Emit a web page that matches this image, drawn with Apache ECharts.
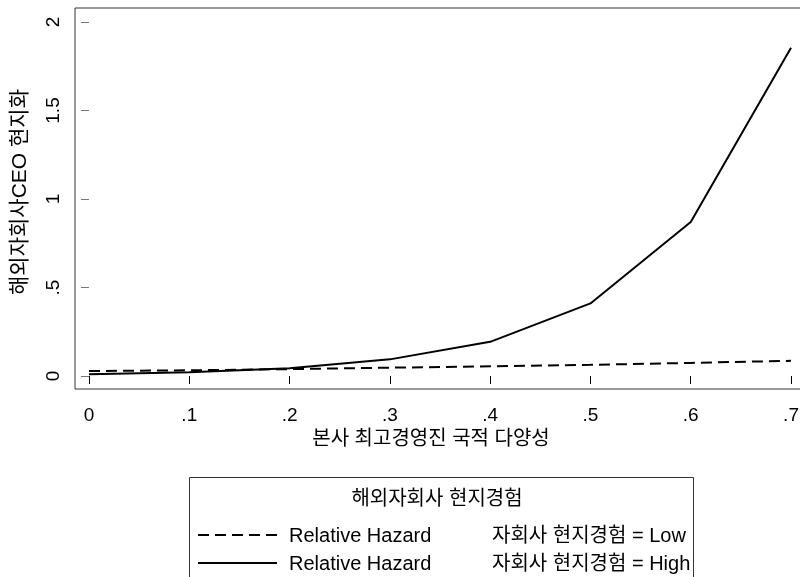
<!DOCTYPE html>
<html>
<head>
<meta charset="utf-8">
<script src="https://cdn.jsdelivr.net/npm/echarts@6/dist/echarts.min.js"></script>
<style>html,body{margin:0;padding:0;background:#fff}#c{width:800px;height:577px}</style>
</head>
<body>
<div id="c"></div>
<script>
const diversity = [0, 0.1, 0.2, 0.3, 0.4, 0.5, 0.6, 0.7];
const hazardLow = [0.028, 0.032, 0.039, 0.047, 0.055, 0.063, 0.074, 0.086];
const hazardHigh = [0.010, 0.021, 0.044, 0.094, 0.193, 0.41, 0.87, 1.855];
const xTicks = [0, 0.1, 0.2, 0.3, 0.4, 0.5, 0.6, 0.7];
const yTicks = [0, 0.5, 1, 1.5, 2];
const xTitle = '본사 최고경영진 국적 다양성';
const yTitle = '해외자회사CEO 현지화';
const legendTitle = '해외자회사 현지경험';
const seriesNames = ['Relative Hazard', 'Relative Hazard'];
const groupLabels = ['자회사 현지경험 = Low', '자회사 현지경험 = High'];

const FONT = "'Liberation Sans', Arial, 'Noto Sans CJK KR', sans-serif";
const fmt = v => {
  if (Math.abs(v) < 1e-9) return '0';
  let s = String(Math.round(v * 100) / 100);
  return s.replace(/^0\./, '.');
};

const chart = echarts.init(document.getElementById('c'), null, {renderer: 'canvas'});
const option = {
  backgroundColor: '#fff',
  animation: false,
  grid: {left: 75, top: 8, width: 730, height: 381, show: true, borderColor: '#333', borderWidth: 1,
         backgroundColor: 'transparent', containLabel: false, outerBoundsMode: 'none'},
  xAxis: {
    type: 'value', min: -0.01396, max: 0.71394,
    axisLine: {show: false},
    splitLine: {show: false},
    axisTick: {show: true, length: 8, lineStyle: {color: '#000', width: 1}, customValues: xTicks},
    axisLabel: {customValues: xTicks, formatter: fmt, margin: 17, fontSize: 19, color: '#000', fontFamily: FONT, hideOverlap: false},
    name: xTitle, nameLocation: 'middle', nameGap: 40,
    nameTextStyle: {fontSize: 20, color: '#000', fontFamily: FONT, padding: [0, 18, 0, 0]}
  },
  yAxis: {
    type: 'value', min: -0.0734, max: 2.0791,
    axisLine: {show: false},
    splitLine: {show: false},
    axisTick: {show: true, length: 8, lineStyle: {color: '#777', width: 1}, customValues: yTicks},
    axisLabel: {customValues: yTicks, formatter: fmt, rotate: 90, margin: 12, fontSize: 19, color: '#000', fontFamily: FONT, hideOverlap: false},
    name: yTitle, nameLocation: 'middle', nameGap: 44,
    nameTextStyle: {fontSize: 21, color: '#000', fontFamily: FONT, padding: [0, 0, 0, 13]}
  },
  series: [
    {
      name: groupLabels[0], type: 'line', showSymbol: false, symbol: 'none',
      data: diversity.map((x, i) => [x, hazardLow[i]]),
      lineStyle: {color: '#000', width: 2, type: [11, 6]}
    },
    {
      name: groupLabels[1], type: 'line', showSymbol: false, symbol: 'none',
      data: diversity.map((x, i) => [x, hazardHigh[i]]),
      lineStyle: {color: '#000', width: 2, type: 'solid'}
    }
  ],
  graphic: [
    {type: 'rect', shape: {x: 189.5, y: 477.5, width: 504, height: 130}, style: {fill: '#fff', stroke: '#333', lineWidth: 1}, silent: true},
    {type: 'text', x: 437, y: 499, style: {text: legendTitle, font: "20px " + FONT, fill: '#000', textAlign: 'center', textVerticalAlign: 'middle'}},
    {type: 'line', shape: {x1: 198, y1: 535, x2: 277, y2: 535}, style: {stroke: '#000', lineWidth: 2, lineDash: [11, 6]}},
    {type: 'line', shape: {x1: 198, y1: 563, x2: 277, y2: 563}, style: {stroke: '#000', lineWidth: 2}},
    {type: 'text', x: 289, y: 536, style: {text: seriesNames[0], font: "20px " + FONT, fill: '#000', textAlign: 'left', textVerticalAlign: 'middle'}},
    {type: 'text', x: 289, y: 564, style: {text: seriesNames[1], font: "20px " + FONT, fill: '#000', textAlign: 'left', textVerticalAlign: 'middle'}},
    {type: 'text', x: 492, y: 536, style: {text: groupLabels[0], font: "20px " + FONT, fill: '#000', textAlign: 'left', textVerticalAlign: 'middle'}},
    {type: 'text', x: 492, y: 564, style: {text: groupLabels[1], font: "20px " + FONT, fill: '#000', textAlign: 'left', textVerticalAlign: 'middle'}}
  ]
};
chart.setOption(option);
</script>
</body>
</html>
